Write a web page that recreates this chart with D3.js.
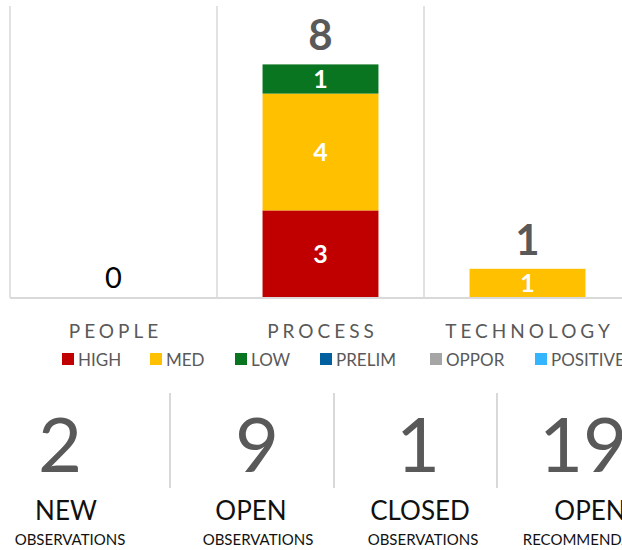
<!DOCTYPE html>
<html>
<head>
<meta charset="utf-8">
<script src="https://cdn.jsdelivr.net/npm/d3@7"></script>
<style>
  html, body { margin: 0; padding: 0; background: #fff; }
  svg { display: block; font-family: Lato, "Open Sans", sans-serif; }
</style>
</head>
<body>
<svg id="chart" width="622" height="550"></svg>
<script>
// ---- data ----
const categories = ["PEOPLE", "PROCESS", "TECHNOLOGY"];
const seriesNames = ["HIGH", "MED", "LOW", "PRELIM", "OPPOR", "POSITIVE"];
const seriesColors = ["#c00000", "#ffc000", "#0a7521", "#005f9e", "#a5a5a5", "#33b5ff"];
const high = [0, 3, 0];
const med = [0, 4, 1];
const low = [0, 1, 0];
const prelim = [0, 0, 0];
const oppor = [0, 0, 0];
const positive = [0, 0, 0];
const kpiValues = ["2", "9", "1", "19"];
const kpiTitles = ["NEW", "OPEN", "CLOSED", "OPEN"];
const kpiSubtitles = ["OBSERVATIONS", "OBSERVATIONS", "OBSERVATIONS", "RECOMMENDATIONS"];

// ---- build ----
const svg = d3.select("#chart");
const seriesValues = [high, med, low, prelim, oppor, positive];
const rows = categories.map((c, i) => {
  const r = { cat: c };
  seriesNames.forEach((s, k) => r[s] = seriesValues[k][i]);
  return r;
});
const stack = d3.stack().keys(seriesNames)(rows);
const totals = rows.map(r => d3.sum(seriesNames, s => r[s]));

const x = d3.scaleBand().domain(categories).range([10, 631]).paddingInner(0).paddingOuter(0);
const y = d3.scaleLinear().domain([0, 10]).range([298, 6]);
const color = d3.scaleOrdinal().domain(seriesNames).range(seriesColors);
const barW = x.bandwidth() * 0.56;

// gridlines (category boundaries)
const bounds = categories.map(c => x(c)).concat([x.range()[1]]);
svg.append("g").selectAll("line").data(bounds).join("line")
  .attr("x1", d => d).attr("x2", d => d)
  .attr("y1", y(10)).attr("y2", y(0))
  .attr("stroke", "#d9d9d9").attr("stroke-width", 1.5);

// bars
const g = svg.append("g");
stack.forEach(layer => {
  const key = layer.key;
  g.append("g").selectAll("rect").data(layer.filter(d => d[1] - d[0] > 0)).join("rect")
    .attr("x", d => x(d.data.cat) + (x.bandwidth() - barW) / 2)
    .attr("width", barW)
    .attr("y", d => y(d[1]))
    .attr("height", d => y(d[0]) - y(d[1]))
    .attr("fill", color(key));
  g.append("g").selectAll("text").data(layer.filter(d => d[1] - d[0] > 0)).join("text")
    .attr("x", d => x(d.data.cat) + x.bandwidth() / 2)
    .attr("y", d => (y(d[0]) + y(d[1])) / 2)
    .attr("dy", "0.36em")
    .attr("text-anchor", "middle")
    .attr("fill", "#fff").attr("font-weight", "bold").attr("font-size", 25)
    .text(d => d[1] - d[0]);
});

// baseline axis
svg.append("line").attr("x1", 10).attr("x2", 622).attr("y1", y(0)).attr("y2", y(0))
  .attr("stroke", "#d9d9d9").attr("stroke-width", 2);

// totals
svg.append("g").selectAll("text").data(rows).join("text")
  .attr("x", d => x(d.cat) + x.bandwidth() / 2)
  .attr("y", (d, i) => y(totals[i]) - (totals[i] > 0 ? 14 : 10))
  .attr("text-anchor", "middle")
  .attr("fill", (d, i) => totals[i] > 0 ? "#595959" : "#000")
  .attr("font-weight", (d, i) => totals[i] > 0 ? "bold" : "normal")
  .attr("font-size", (d, i) => totals[i] > 0 ? 42 : 29)
  .text((d, i) => totals[i]);

// category axis labels
const xAxis = d3.axisBottom(x).tickSize(0).tickPadding(0);
const ax = svg.append("g").attr("transform", "translate(0,338)").call(xAxis);
ax.select(".domain").remove();
ax.selectAll("text")
  .attr("dy", 0)
  .attr("font-family", "Lato, sans-serif")
  .attr("font-size", 19).attr("fill", "#595959")
  .attr("letter-spacing", "4px")
  .attr("dx", "2px");

// legend
const legendX = [62, 150, 235, 320, 430, 535];
const lg = svg.append("g").selectAll("g").data(seriesNames).join("g")
  .attr("transform", (d, i) => `translate(${legendX[i]},353)`);
lg.append("rect").attr("width", 12).attr("height", 12).attr("fill", d => color(d));
lg.append("text").attr("x", 16).attr("y", 12.5)
  .attr("font-size", 17).attr("fill", "#595959").text(d => d);

// KPIs
const numX = [60, 257, 418, 583];
const titleX = [66, 251, 420, 590];
const subX = [70, 258, 423, 599];
svg.append("g").selectAll("text").data(kpiValues).join("text")
  .attr("x", (d, i) => numX[i]).attr("y", 472)
  .attr("text-anchor", "middle").attr("font-size", 76).attr("font-weight", 400)
  .attr("fill", "#595959").text(d => d);
svg.append("g").selectAll("line").data([170, 334, 497]).join("line")
  .attr("x1", d => d).attr("x2", d => d).attr("y1", 393).attr("y2", 488)
  .attr("stroke", "#bfbfbf").attr("stroke-width", 1.2);
svg.append("g").selectAll("text").data(kpiTitles).join("text")
  .attr("x", (d, i) => titleX[i]).attr("y", 520)
  .attr("text-anchor", "middle").attr("font-size", 26)
  .attr("fill", "#111").text(d => d);
svg.append("g").selectAll("text").data(kpiSubtitles).join("text")
  .attr("x", (d, i) => subX[i]).attr("y", 545)
  .attr("text-anchor", "middle").attr("font-size", 15)
  .attr("fill", "#111").text(d => d);
</script>
</body>
</html>
